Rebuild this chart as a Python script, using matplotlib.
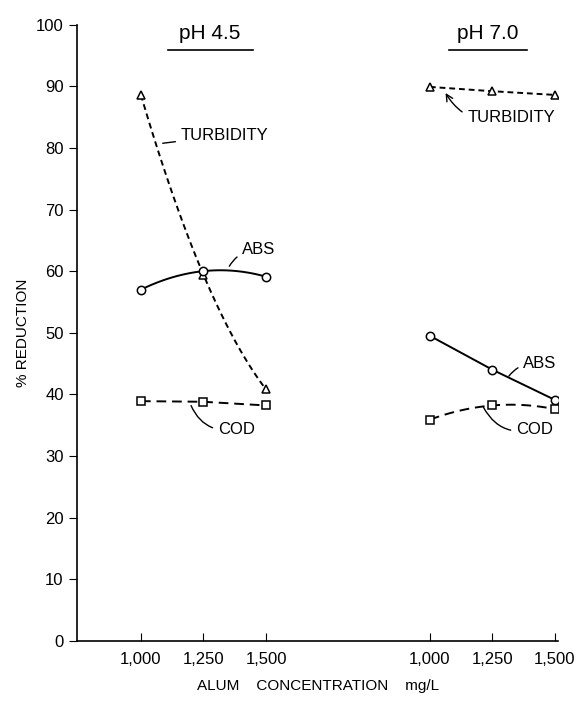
import numpy as np
import matplotlib.pyplot as plt

conc = [1000, 1250, 1500]
tick_labels = ['1,000', '1,250', '1,500']
offset = 1155  # horizontal shift of the pH 7.0 group

turb_45 = [88.6, 59.4, 40.8]
abs_45 = [57.0, 60.0, 59.1]
cod_45 = [38.9, 38.8, 38.2]

turb_70 = [89.9, 89.2, 88.6]
abs_70 = [49.5, 44.0, 39.1]
cod_70 = [35.9, 38.2, 37.6]

plt.rcParams['font.family'] = ['Liberation Sans', 'DejaVu Sans']

fig = plt.figure(figsize=(5.87, 7.05), dpi=100)
ax = fig.add_axes([0.131, 0.091, 0.82, 0.874])


# draw a series, smoothed through its three points when curved
def series(x, y, ls, marker, smooth=False):
    x = np.array(x, float)
    if smooth:
        p = np.poly1d(np.polyfit(x, y, 2))
        xs = np.linspace(x[0], x[-1], 60)
        ax.plot(xs, p(xs), color='black', lw=1.4, ls=ls)
    else:
        ax.plot(x, y, color='black', lw=1.4, ls=ls)
    ax.plot(x, y, ls='none', marker=marker, ms=6, mfc='white', mec='black', mew=1.1)


x_left = np.array(conc)
x_right = np.array(conc) + offset

series(x_left, turb_45, (0, (3, 2)), '^', smooth=True)
series(x_left, abs_45, '-', 'o', smooth=True)
series(x_left, cod_45, (0, (5, 3)), 's')

series(x_right, turb_70, (0, (3, 2)), '^')
series(x_right, abs_70, '-', 'o')
series(x_right, cod_70, (0, (5, 3)), 's', smooth=True)

fs = 12
arrow = dict(arrowstyle='-', color='black', lw=1.0)
ax.annotate('TURBIDITY', xy=(1076, 80.7), xytext=(1160, 82), fontsize=fs, va='center',
            arrowprops=arrow)
ax.annotate('ABS', xy=(1348, 60.4), xytext=(1404, 63.5), fontsize=fs, va='center',
            arrowprops=dict(arrow, connectionstyle='arc3,rad=0.3'))
ax.annotate('COD', xy=(1196, 38.6), xytext=(1308, 34.3), fontsize=fs, va='center',
            arrowprops=dict(arrow, connectionstyle='arc3,rad=-0.4'))
ax.annotate('TURBIDITY', xy=(2212, 89.3), xytext=(2304, 84.9), fontsize=fs, va='center',
            arrowprops=dict(arrowstyle='->', color='black', lw=1.0,
                            connectionstyle='arc3,rad=-0.4'))
ax.annotate('ABS', xy=(2464, 42.6), xytext=(2528, 45), fontsize=fs, va='center',
            arrowprops=dict(arrow, connectionstyle='arc3,rad=0.3'))
ax.annotate('COD', xy=(2364, 38.3), xytext=(2500, 34.3), fontsize=fs, va='center',
            arrowprops=dict(arrow, connectionstyle='arc3,rad=-0.4'))

# group headings
ax.text(1276, 98.6, 'pH 4.5', fontsize=15, ha='center', va='center')
ax.plot([1108, 1448], [95.9, 95.9], color='black', lw=1.2, clip_on=False)
ax.text(2388, 98.6, 'pH 7.0', fontsize=15, ha='center', va='center')
ax.plot([2232, 2544], [95.9, 95.9], color='black', lw=1.2, clip_on=False)

ax.set_xlim(744, 2668)
ax.set_ylim(0, 100)
ax.set_yticks(range(0, 101, 10))
ax.set_yticklabels([str(v) for v in range(0, 101, 10)], fontsize=fs)
ax.set_xticks(list(x_left) + list(x_right))
ax.set_xticklabels(tick_labels * 2, fontsize=fs)
ax.tick_params(axis='x', direction='in', length=6, pad=8)
ax.tick_params(axis='y', direction='out', length=6)
for s in ['top', 'right']:
    ax.spines[s].set_visible(False)
for s in ['left', 'bottom']:
    ax.spines[s].set_linewidth(1.2)

ax.set_xlabel('ALUM    CONCENTRATION    mg/L', fontsize=11, labelpad=9)
ax.set_ylabel('% REDUCTION', fontsize=11, labelpad=4)

fig.savefig('out.png', dpi=100)
